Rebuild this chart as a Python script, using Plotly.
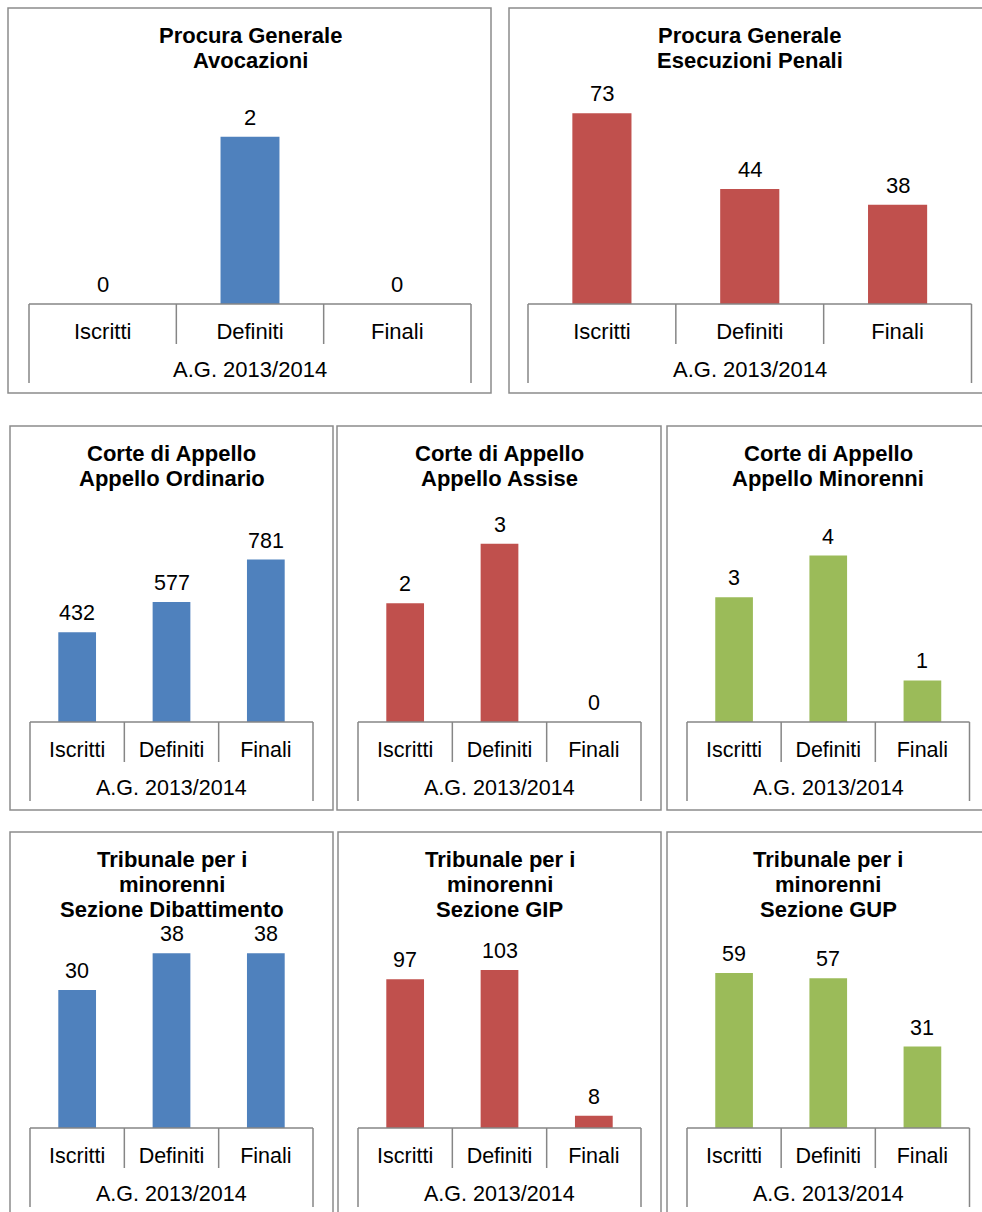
import plotly.graph_objects as go

W, H = 982, 1212

categories = ["Iscritti", "Definiti", "Finali"]
group_label = "A.G. 2013/2014"

titles = [
    ["Procura Generale", "Avocazioni"],
    ["Procura Generale", "Esecuzioni Penali"],
    ["Corte di Appello", "Appello Ordinario"],
    ["Corte di Appello", "Appello Assise"],
    ["Corte di Appello", "Appello Minorenni"],
    ["Tribunale per i", "minorenni", "Sezione Dibattimento"],
    ["Tribunale per i", "minorenni", "Sezione GIP"],
    ["Tribunale per i", "minorenni", "Sezione GUP"],
]

pg_avocazioni = [0, 2, 0]
pg_esecuzioni = [73, 44, 38]
ca_ordinario = [432, 577, 781]
ca_assise = [2, 3, 0]
ca_minorenni = [3, 4, 1]
tm_dibattimento = [30, 38, 38]
tm_gip = [97, 103, 8]
tm_gup = [59, 57, 31]

series = [pg_avocazioni, pg_esecuzioni, ca_ordinario, ca_assise,
          ca_minorenni, tm_dibattimento, tm_gip, tm_gup]
y_max = [2.5, 80, 1000, 3.5, 5, 40, 120, 70]

BLUE, RED, GREEN = "#4F81BD", "#C0504D", "#9BBB59"
colors = [BLUE, RED, BLUE, RED, GREEN, BLUE, RED, GREEN]

# layout in pixels: border (x0, y0, x1, y1), axis x range (ax0, ax1), axis line y, plot top y
panels = [
    ((8, 8, 491, 393), (29, 471), 304, 95),
    ((509, 8, 1000, 393), (528, 971.5), 304, 95),
    ((10, 426, 333, 810), (30, 313), 722, 514),
    ((337, 426, 661, 810), (358, 641), 722, 514),
    ((667, 426, 1000, 810), (687, 969.5), 722, 514),
    ((10, 832, 333, 1230), (30, 313), 1128, 944),
    ((338, 832, 661, 1230), (358, 641), 1128, 944),
    ((667, 832, 1000, 1230), (687, 969.5), 1128, 944),
]
title_y = [[35.5, 60.5], [35.5, 60.5], [453.5, 478.5], [453.5, 478.5], [453.5, 478.5],
           [859.5, 884.5, 909.5], [859.5, 884.5, 909.5], [859.5, 884.5, 909.5]]
label_fs = [22, 22, 21.5, 21.5, 21.5, 21.5, 21.5, 21.5]

def px(x):
    return x / W

def py(y):
    return 1 - y / H

FONT = "Liberation Sans, Arial, sans-serif"
TFS = 22
AXC = "#868686"
BORDER = "#8c8c8c"

fig = go.Figure()
shapes, annotations = [], []
layout_axes = {}

for i, (border, (ax0, ax1), yl, yt) in enumerate(panels):
    n = i + 1
    xa = "x" if n == 1 else f"x{n}"
    ya = "y" if n == 1 else f"y{n}"
    xkey = "xaxis" if n == 1 else f"xaxis{n}"
    ykey = "yaxis" if n == 1 else f"yaxis{n}"
    vals = series[i]
    lfs = label_fs[i]
    fig.add_trace(go.Bar(
        x=categories, y=vals, width=0.4, marker=dict(color=colors[i], line=dict(width=0)),
        xaxis=xa, yaxis=ya, showlegend=False, hoverinfo="x+y", cliponaxis=False,
    ))
    layout_axes[xkey] = dict(
        domain=[px(ax0), px(ax1)], anchor=ya, range=[-0.5, 2.5],
        showline=False, showgrid=False, zeroline=False, ticks="",
        tickfont=dict(family=FONT, size=lfs, color="#000"),
        ticklabelstandoff=12, fixedrange=True,
    )
    layout_axes[ykey] = dict(
        domain=[py(yl), py(yt)], anchor=xa, range=[0, y_max[i]],
        visible=False, fixedrange=True,
    )
    # data labels
    for c, v in zip(categories, vals):
        annotations.append(dict(
            x=c, y=v, xref=xa, yref=ya, text=str(v), showarrow=False,
            yanchor="bottom", yshift=5,
            font=dict(family=FONT, size=lfs, color="#000"),
        ))
    # panel border
    bx0, by0, bx1, by1 = border
    shapes.append(dict(type="rect", xref="paper", yref="paper",
                       x0=px(bx0), x1=px(bx1), y0=py(by1), y1=py(by0),
                       line=dict(color=BORDER, width=1.5), fillcolor="rgba(0,0,0,0)",
                       layer="below"))
    # multi-level category axis
    xd, yd = f"{xa} domain", f"{ya} domain"
    plot_h = yl - yt
    def dy(off):
        return -off / plot_h
    shapes.append(dict(type="line", xref=xd, yref=yd, x0=0, x1=1, y0=0, y1=0,
                       line=dict(color=AXC, width=1.5)))
    for k, xf in enumerate([0, 1 / 3, 2 / 3, 1]):
        off = 79 if k in (0, 3) else 40
        shapes.append(dict(type="line", xref=xd, yref=yd, x0=xf, x1=xf,
                           y0=0, y1=dy(off), line=dict(color=AXC, width=1.5)))
    annotations.append(dict(x=0.5, y=dy(66), xref=xd, yref=yd, text=group_label,
                            showarrow=False, yanchor="middle", xanchor="center",
                            font=dict(family=FONT, size=lfs, color="#000")))
    # title
    cx = px((ax0 + ax1) / 2)
    for line, ty in zip(titles[i], title_y[i]):
        annotations.append(dict(x=cx, y=py(ty), xref="paper", yref="paper",
                                text=f"<b>{line}</b>", showarrow=False,
                                xanchor="center", yanchor="middle",
                                font=dict(family=FONT, size=TFS, color="#000")))

fig.update_layout(
    width=W, height=H, margin=dict(l=0, r=0, t=0, b=0),
    paper_bgcolor="white", plot_bgcolor="white",
    shapes=shapes, annotations=annotations, **layout_axes,
)

fig.write_html("out.html", config={"displayModeBar": False},
               post_script="document.body.style.margin='0';document.body.style.overflow='hidden';")
